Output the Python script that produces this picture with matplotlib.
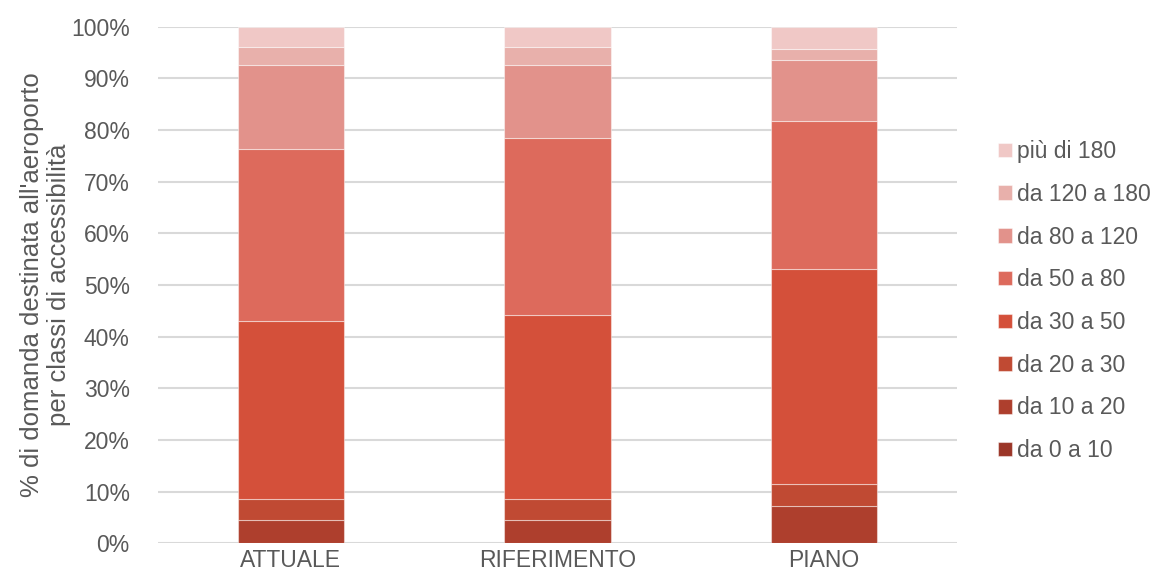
import matplotlib
matplotlib.use("Agg")
import matplotlib.pyplot as plt
import numpy as np

plt.rcParams['font.family'] = ['Liberation Sans', 'DejaVu Sans']

scenarios = ["ATTUALE", "RIFERIMENTO", "PIANO"]
classes = ["da 0 a 10", "da 10 a 20", "da 20 a 30", "da 30 a 50",
           "da 50 a 80", "da 80 a 120", "da 120 a 180", "più di 180"]
colors = ["#9B3628", "#AE3F2D", "#C04A33", "#D4503A",
          "#DD6A5C", "#E2928B", "#E8B0AB", "#F0C8C6"]

# share of demand (%) per accessibility class, one list per class
da_0_10 = [0.0, 0.0, 0.0]
da_10_20 = [4.5, 4.5, 7.3]
da_20_30 = [4.0, 4.0, 4.1]
da_30_50 = [34.5, 35.7, 41.7]
da_50_80 = [33.3, 34.3, 28.7]
da_80_120 = [16.3, 14.1, 11.7]
da_120_180 = [3.5, 3.5, 2.2]
oltre_180 = [3.9, 3.9, 4.3]

series = [da_0_10, da_10_20, da_20_30, da_30_50,
          da_50_80, da_80_120, da_120_180, oltre_180]

fig = plt.figure(figsize=(11.59, 5.83), dpi=100)
ax = fig.add_axes([0.136, 0.068, 0.690, 0.886])

x = np.arange(len(scenarios))
bottom = np.zeros(len(scenarios))
handles = []
for name, vals, col in zip(classes, series, colors):
    v = np.array(vals, dtype=float)
    b = ax.bar(x, v, width=0.4, bottom=bottom, color=col, label=name,
               edgecolor=(1, 1, 1, 0.45), linewidth=0.8, zorder=3)
    handles.append(b)
    bottom += v

ax.set_xlim(-0.5, 2.5)
ax.set_ylim(0, 100)
ax.set_yticks(np.arange(0, 101, 10))
ax.set_yticklabels([f"{t}%" for t in range(0, 101, 10)])
ax.set_xticks(x)
ax.set_xticklabels(scenarios)
ax.yaxis.grid(True, color="#D9D9D9", linewidth=1.5, zorder=0)
ax.set_axisbelow(True)
for s in ax.spines.values():
    s.set_visible(False)
ax.tick_params(axis="both", length=0, labelsize=16.5, colors="#595959")
ax.tick_params(axis="y", pad=20)
ax.tick_params(axis="x", pad=4)

ax.set_ylabel("% di domanda destinata all'aeroporto\nper classi di accessibilità",
              fontsize=18.5, color="#595959", labelpad=0, linespacing=1.15)

leg = ax.legend(handles[::-1], classes[::-1], loc="center left",
                bbox_to_anchor=(1.04, 0.469), frameon=False, fontsize=16.5,
                handlelength=0.6, handleheight=0.6, handletextpad=0.2,
                labelspacing=0.86, borderaxespad=0)
for t in leg.get_texts():
    t.set_color("#595959")

fig.savefig("out.png", dpi=100)
